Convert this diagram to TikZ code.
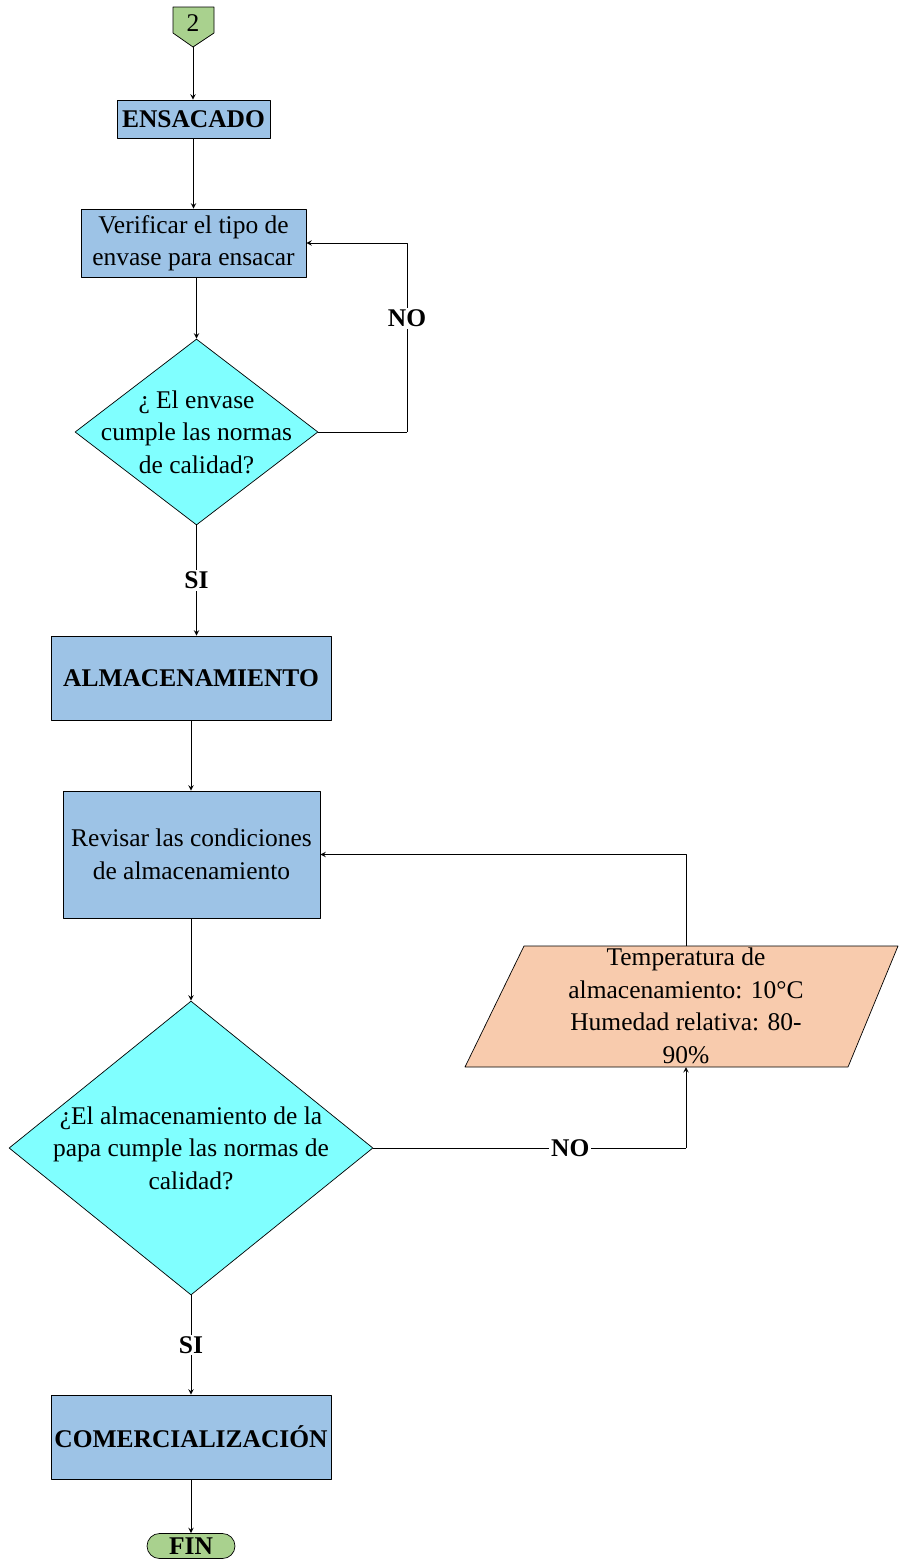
\documentclass[tikz,border=0pt]{standalone}
\usepackage{fontspec}
\setmainfont{Liberation Serif}
\usetikzlibrary{shapes.geometric,calc}
\definecolor{azul}{HTML}{9DC3E6}
\definecolor{cian}{HTML}{80FFFF}
\definecolor{verde}{HTML}{A9D18E}
\definecolor{salmon}{HTML}{F8CBAD}
\begin{document}
\begin{tikzpicture}[line join=round,>=stealth,x=0.02cm,y=-0.02cm,
	every node/.style={font=\fontsize{14.5}{18.5}\selectfont},
	titulo/.style={font=\fontsize{14.5}{18.5}\selectfont\bfseries},
	caja/.style={draw,fill=azul,inner sep=0pt},
	rombo/.style={draw,fill=cian,diamond,inner sep=0pt},
	etiq/.style={fill=white,inner sep=1pt,titulo}]
	\useasboundingbox (0,0) rectangle (899,1559);
	% Conector 2
	\coordinate (c2) at (193,47);
	\filldraw[fill=verde](173,7)--(214,7)--(214,33)--(c2)--(173,33)--cycle;
	\node (n2) at (193,23) {2};
	% Ensacado
	\node[caja,titulo,minimum width=3.06cm,minimum height=0.76cm] (ensacado) at (193.5,119) {ENSACADO};
	\node[caja,align=center,minimum width=4.5cm,minimum height=1.36cm] (verif) at (193.5,243) {Verificar el tipo de\\envase para ensacar};
	\node[rombo,minimum width=4.86cm,minimum height=3.72cm] (dec1) at (196.5,432) {};
	\node[align=center] (tdec1) at (dec1) {¿ El envase\\cumple las normas\\de calidad?};
	% Almacenamiento
	\node[caja,titulo,minimum width=5.6cm,minimum height=1.68cm] (almac) at (191,678) {ALMACENAMIENTO};
	\node[caja,align=center,minimum width=5.14cm,minimum height=2.54cm] (revisar) at (191.5,854.5) {Revisar las condiciones\\de almacenamiento};
	\node[rombo,minimum width=7.28cm,minimum height=5.88cm] (dec2) at (191,1148) {};
	\node[align=center] (tdec2) at (dec2) {¿El almacenamiento de la\\papa cumple las normas de\\calidad?};
	% Datos
	\coordinate (p1) at (465,1067);
	\coordinate (p2) at (848,1067);
	\coordinate (p3) at (898,946);
	\coordinate (p4) at (524,946);
	\coordinate (pt) at (686,946);
	\coordinate (pb) at (686,1067);
	\filldraw[fill=salmon](p1)--(p2)--(p3)--(p4)--cycle;
	\node[align=center] (datos) at (686,1006) {Temperatura de\\almacenamiento: 10°C\\Humedad relativa: 80-\\90\%};
	% Final
	\node[caja,titulo,minimum width=5.6cm,minimum height=1.68cm] (comerc) at (191,1437) {COMERCIALIZACIÓN};
	\node[draw,fill=verde,rounded corners=0.25cm,inner sep=0pt,titulo,minimum width=1.76cm,minimum height=0.5cm] (fin) at (191,1546) {FIN};
	% Flechas
	\coordinate (lazo1) at (407,432);
	\coordinate (lazo2) at (686,1148);
	\draw[->](c2)--(c2|-ensacado.north);
	\draw[->](ensacado.south)--(ensacado.south|-verif.north);
	\draw[->](dec1.north|-verif.south)--(dec1.north);
	\draw(dec1.east)--(lazo1);
	\draw[->](lazo1)--node[etiq,pos=0.6]{NO}(lazo1|-verif.east)--(verif.east);
	\draw[->](dec1.south)--node[etiq]{SI}(dec1.south|-almac.north);
	\draw[->](almac.south)--(almac.south|-revisar.north);
	\draw[->](dec2.north|-revisar.south)--(dec2.north);
	\draw(dec2.east)--node[etiq,pos=0.63]{NO}(lazo2);
	\draw[->](lazo2)--(pb);
	\draw[->](pt)|-(revisar.east);
	\draw[->](dec2.south)--node[etiq]{SI}(comerc.north);
	\draw[->](comerc.south)--(fin.north);
\end{tikzpicture}
\end{document}
